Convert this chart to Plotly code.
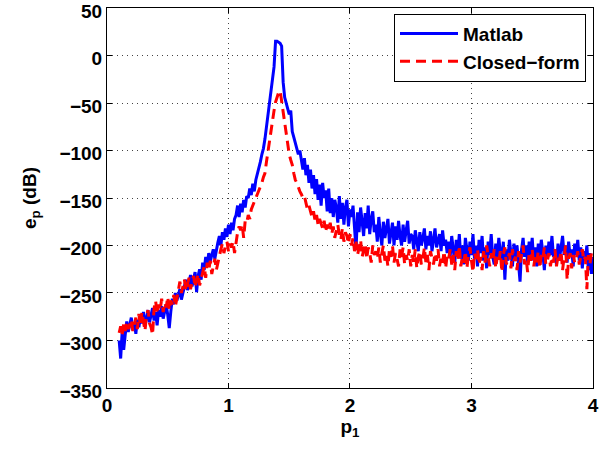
import plotly.graph_objects as go

# p1 sweep: uniform grid starting at 0.1 with step 0.0125
p1_start = 0.1
p1_step = 0.0125

matlab_db = [
    -300, -319, -290, -310, -294,
    -280, -291, -284, -276, -289, -281, -293, -278, -286, -275,
    -282, -270, -285, -274, -268, -281, -272, -266, -279, -270, -284, -268, -275, -264, -277, -268, -262, -273,
    -287, -270,
    -256, -262, -250, -258, -252, -246, -257, -249,
    -244, -236, -247, -240, -231, -243, -234, -228, -249, -232, -225, -236,
    -218, -226, -212, -221, -208, -217, -210, -204, -214, -203,
    -197, -190, -200, -186, -194, -182, -191, -178, -188, -176, -184, -172,
    -168, -158, -170, -156, -165, -152, -160, -148,
    -150, -140, -147, -135, -143, -131,
    -125, -118, -112, -104, -98, -88,
    -75, -62, -52, -40, -28, -12, 15, 15, 14, 13, 10, -28, -44, -50, -55, -62, -58, -80, -86, -92, -98, -104, -100,
    -112, -120, -108, -126, -115, -134, -120, -140, -126,
    -146, -130, -152, -136, -158, -134, -150, -142, -164, -140, -166,
    -150, -170, -152, -160, -176, -148, -172, -155, -178, -160, -152, -180, -162,
    -170, -158, -184, -205, -165, -186, -160, -176, -190, -166, -182, -158, -188, -172, -164, -186,
    -178, -196, -170, -188, -200, -175, -192, -182, -172, -198, -186, -176, -200, -180, -194, -174, -190, -200, -178, -196, -184, -174, -198, -188,
    -190, -204, -184, -198, -206, -186, -200, -192, -182, -204, -190, -200, -185, -206, -194, -182, -202, -196, -188, -206, -184, -200, -194, -208,
    -196, -212, -190, -204, -218, -194, -208, -188, -214, -200,
    -220, -192, -206, -216, -196, -210, -188, -214, -200, -222,
    -194, -208, -190, -216, -202, -224, -196, -210, -188, -212,
    -220, -198, -214, -192, -206, -218, -196, -236, -204, -216,
    -194, -210, -222, -198, -212, -200, -220, -238, -204, -192,
    -212, -200, -218, -196, -210, -192, -216, -202, -222, -198,
    -212, -194, -208, -226, -200, -214, -196, -210, -190, -212,
    -204, -220, -198, -214, -202, -190, -210, -200, -218, -196,
    -212, -204, -222, -198, -210, -194, -216, -202, -224, -206,
    -214, -200, -226, -208, -230, -212,
]

closed_form_db = [
    -292, -285, -294, -282, -290, -280, -288, -284, -278, -290, -282,
    -276, -288, -272, -284, -270, -280, -290, -274, -268, -282, -286, -294,
    -266, -258, -272, -262, -268, -256, -270, -260, -265, -254, -268, -258, -262, -252, -264, -256,
    -246, -238, -250, -242, -236, -248, -240, -234, -246, -238, -232, -244, -236, -230, -242, -234,
    -228, -222, -234, -218, -226, -216, -230, -220, -214, -226, -218, -212,
    -204, -198, -208, -200, -196, -206, -198, -202, -196, -208, -194,
    -186, -180, -184, -178, -192, -174, -176, -168, -172, -162, -158,
    -156, -150, -146, -143, -138, -134, -128,
    -124, -112, -100, -90, -80, -70, -58, -49, -43, -39, -37, -48, -60, -72, -84, -95, -104, -110, -115, -124, -131, -134, -140, -143,
    -146, -150, -148, -156, -162, -158, -166, -170, -164,
    -174, -168, -178, -172, -176, -182, -174, -186, -178, -184, -176,
    -188, -180, -192, -184, -178, -190, -194, -182, -196, -186, -190, -198, -188,
    -200, -192, -206, -196, -210, -200, -194, -212, -204, -198, -214, -202, -208, -218, -200, -210,
    -206, -214, -202, -218, -208, -200, -216, -210, -222, -204, -212, -200, -218, -208, -214, -222, -204, -212, -202, -220, -210, -216, -204, -222,
    -210, -218, -204, -224, -212, -206, -220, -214, -202, -218, -210, -226, -206, -214, -220, -208, -216, -204, -222, -212, -218, -206, -224, -210,
    -214, -204, -220, -210, -226, -206, -216, -200, -222, -212,
    -218, -206, -224, -210, -202, -216, -228, -208, -214, -204,
    -220, -212, -226, -206, -218, -200, -214, -222, -208, -216,
    -204, -224, -212, -218, -206, -228, -210, -202, -220, -214,
    -208, -224, -204, -216, -212, -226, -206, -218, -210, -200,
    -220, -214, -228, -208, -216, -204, -222, -212, -218, -206,
    -224, -210, -214, -202, -220, -216, -208, -222, -212, -218,
    -204, -222, -210, -216, -206, -226, -212, -200, -236, -214,
    -208, -224, -210, -218, -214, -206, -220, -212, -204, -216,
    -212, -246, -210, -220, -208, -214,
]

assert len(matlab_db) == len(closed_form_db), (len(matlab_db), len(closed_form_db))
p1 = [round(p1_start + p1_step * i, 5) for i in range(len(matlab_db))]

x_ticks = [0, 1, 2, 3, 4]
y_ticks = [-350, -300, -250, -200, -150, -100, -50, 0, 50]

FONT = "Liberation Sans"

fig = go.Figure()
fig.add_trace(go.Scatter(
    x=p1, y=matlab_db, mode="lines", name="Matlab",
    line=dict(color="#0000FF", width=3),
))
fig.add_trace(go.Scatter(
    x=p1, y=closed_form_db, mode="lines", name="Closed\u2212form",
    line=dict(color="#FF0000", width=3, dash="10px,6px"),
))

axis_common = dict(
    showline=True, linecolor="black", linewidth=1, mirror="ticks",
    ticks="inside", ticklen=5, tickcolor="black",
    showgrid=True, gridcolor="#444444", gridwidth=1, griddash="1px,4px",
    zeroline=False, automargin=False, ticklabeloverflow="allow",
    tickfont=dict(family=FONT, size=19, color="black", weight="bold"),
)

fig.update_xaxes(
    range=[0, 4.0005], tickvals=x_ticks,
    title=dict(text="p<sub>1</sub>", font=dict(family=FONT, size=19, color="black", weight="bold"), standoff=2),
    **axis_common,
)
fig.update_yaxes(
    range=[-350.05, 50.05], tickvals=y_ticks, ticklabelshift=3,
    title=dict(text="e<sub>p</sub> (dB)", font=dict(family=FONT, size=19, color="black", weight="bold"), standoff=17),
    **axis_common,
)

fig.update_layout(
    width=606, height=452,
    margin=dict(l=107, r=13, t=8, b=64, autoexpand=False),
    paper_bgcolor="white", plot_bgcolor="white",
    showlegend=True,
    legend=dict(
        x=0.9856, y=0.985, xanchor="right", yanchor="top",
        bgcolor="white", bordercolor="black", borderwidth=1,
        font=dict(family=FONT, size=19, color="black", weight="bold"),
        tracegroupgap=0, itemwidth=58,
    ),
)

fig.write_html(
    "out.html",
    config={"displayModeBar": False},
    post_script="document.body.style.margin='0px';document.body.style.overflow='hidden';",
)
